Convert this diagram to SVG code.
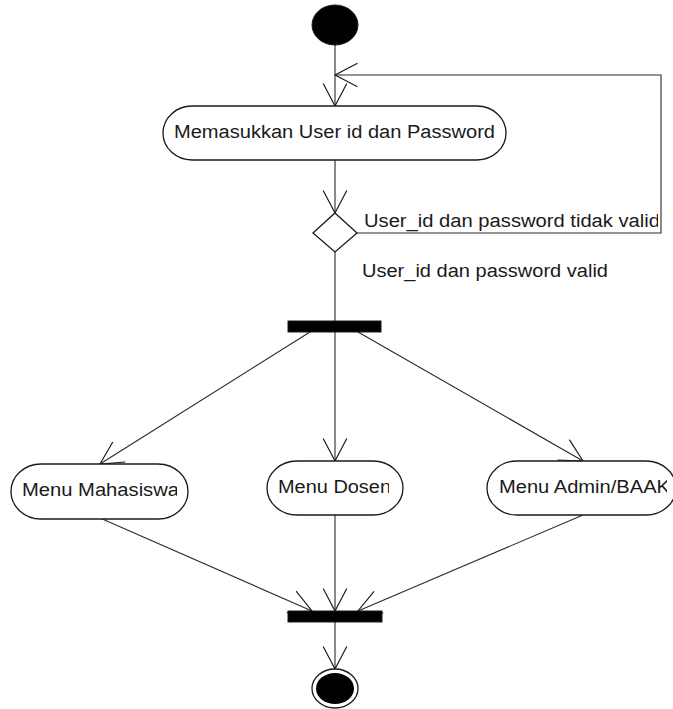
<svg xmlns="http://www.w3.org/2000/svg" width="673" height="709" viewBox="0 0 673 709">
  <style>
    .node { fill: #ffffff; stroke: #1a1a1a; stroke-width: 1.3; }
    .solid { fill: #000000; stroke: #1a1a1a; stroke-width: 1; }
    .edge { fill: none; stroke: #2a2a2a; stroke-width: 1.1; marker-end: url(#open); }
    .plain { fill: none; stroke: #2a2a2a; stroke-width: 1.1; }
    .label { font-family: "Liberation Sans", Arial, sans-serif; font-size: 18px; fill: #1a1a1a; }
  </style>
  <defs>
    <marker id="open" markerUnits="userSpaceOnUse" markerWidth="30" markerHeight="30" viewBox="-24 -14 26 28" refX="0" refY="0" orient="auto">
      <path d="M -21 -11 L 0 0 L -21 11" fill="none" stroke="#1a1a1a" stroke-width="1.1"/>
    </marker>
    <clipPath id="clipMhs"><rect x="12" y="465" width="165" height="53"/></clipPath>
    <clipPath id="clipDsn"><rect x="268" y="462" width="121" height="52"/></clipPath>
    <clipPath id="clipAdm"><rect x="488" y="462" width="179" height="52"/></clipPath>
    <clipPath id="clipGuard"><rect x="360" y="205" width="298" height="27"/></clipPath>
  </defs>

  <!-- connectors -->
  <g id="connectors">
    <line class="edge" x1="335" y1="45" x2="335" y2="106"/>
    <line class="edge" x1="335" y1="160" x2="335" y2="213"/>
    <polyline class="edge" points="357,233 661,233 661,75 335,75"/>
    <line class="plain" x1="335" y1="252" x2="335" y2="321"/>
    <line class="edge" x1="310" y1="332" x2="100" y2="464"/>
    <line class="edge" x1="335" y1="332" x2="335" y2="461"/>
    <line class="edge" x1="358" y1="332" x2="583" y2="461"/>
    <line class="edge" x1="100" y1="518" x2="312" y2="611"/>
    <line class="edge" x1="335" y1="515" x2="335" y2="611"/>
    <line class="edge" x1="583" y1="515" x2="358" y2="611"/>
    <line class="edge" x1="335" y1="622" x2="335" y2="669"/>
  </g>

  <!-- guard labels -->
  <g id="guards">
    <text class="label" x="364" y="227" textLength="296" lengthAdjust="spacingAndGlyphs" clip-path="url(#clipGuard)">User_id dan password tidak valid</text>
    <text class="label" x="362" y="277" textLength="246" lengthAdjust="spacingAndGlyphs">User_id dan password valid</text>
  </g>

  <g id="start">
    <ellipse class="solid" cx="335" cy="25" rx="23" ry="20"/>
  </g>

  <g id="login">
    <rect class="node" x="163" y="106" width="343" height="54" rx="29" ry="27"/>
    <text class="label" x="174" y="138" textLength="321" lengthAdjust="spacingAndGlyphs">Memasukkan User id dan Password</text>
  </g>

  <g id="decision">
    <polygon class="node" points="335,213 357,233 335,252 313,233"/>
  </g>

  <g id="fork">
    <rect class="solid" x="288" y="321" width="93" height="11"/>
  </g>

  <g id="menuMahasiswa">
    <rect class="node" x="11" y="464" width="177" height="55" rx="30" ry="27.5"/>
    <text class="label" x="22" y="496" textLength="157" lengthAdjust="spacingAndGlyphs" clip-path="url(#clipMhs)">Menu Mahasiswa</text>
  </g>

  <g id="menuDosen">
    <rect class="node" x="267" y="461" width="136" height="54" rx="30" ry="27"/>
    <text class="label" x="278" y="493" textLength="113" lengthAdjust="spacingAndGlyphs" clip-path="url(#clipDsn)">Menu Dosen</text>
  </g>

  <g id="menuAdmin">
    <rect class="node" x="487" y="461" width="189" height="54" rx="30" ry="27"/>
    <text class="label" x="499" y="493" textLength="171" lengthAdjust="spacingAndGlyphs" clip-path="url(#clipAdm)">Menu Admin/BAAK</text>
  </g>

  <g id="join">
    <rect class="solid" x="288" y="611" width="94" height="11"/>
  </g>

  <g id="end">
    <ellipse cx="335" cy="688.5" rx="23" ry="19.5" fill="#ffffff" stroke="#1a1a1a" stroke-width="1.3"/>
    <ellipse cx="335" cy="688.5" rx="19" ry="15.5" fill="#000000"/>
  </g>
</svg>
